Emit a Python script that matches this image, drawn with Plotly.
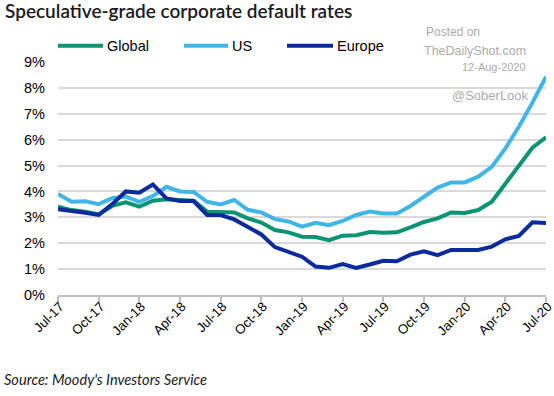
import plotly.graph_objects as go

months = ["Jul-17", "Aug-17", "Sep-17", "Oct-17", "Nov-17", "Dec-17",
          "Jan-18", "Feb-18", "Mar-18", "Apr-18", "May-18", "Jun-18",
          "Jul-18", "Aug-18", "Sep-18", "Oct-18", "Nov-18", "Dec-18",
          "Jan-19", "Feb-19", "Mar-19", "Apr-19", "May-19", "Jun-19",
          "Jul-19", "Aug-19", "Sep-19", "Oct-19", "Nov-19", "Dec-19",
          "Jan-20", "Feb-20", "Mar-20", "Apr-20", "May-20", "Jun-20", "Jul-20"]

global_rate = [3.41, 3.28, 3.22, 3.11, 3.44, 3.58,
               3.41, 3.64, 3.70, 3.66, 3.64, 3.22,
               3.20, 3.19, 2.96, 2.80, 2.51, 2.42,
               2.25, 2.24, 2.12, 2.29, 2.31, 2.43,
               2.40, 2.42, 2.61, 2.82, 2.96, 3.19,
               3.17, 3.28, 3.60, 4.31, 5.02, 5.69, 6.09]

us_rate = [3.90, 3.60, 3.62, 3.51, 3.74, 3.80,
           3.60, 3.82, 4.18, 4.00, 3.98, 3.60,
           3.50, 3.67, 3.29, 3.19, 2.93, 2.84,
           2.64, 2.79, 2.70, 2.86, 3.09, 3.22,
           3.15, 3.15, 3.44, 3.80, 4.15, 4.35,
           4.35, 4.57, 4.95, 5.66, 6.50, 7.43, 8.43]

europe_rate = [3.31, 3.26, 3.18, 3.09, 3.51, 4.00,
               3.95, 4.27, 3.73, 3.63, 3.63, 3.09,
               3.09, 2.92, 2.64, 2.34, 1.85, 1.65,
               1.48, 1.10, 1.05, 1.19, 1.05, 1.18,
               1.32, 1.30, 1.56, 1.69, 1.54, 1.74,
               1.74, 1.74, 1.87, 2.15, 2.28, 2.81, 2.78]

tick_labels = months[::3]
y_ticks = list(range(0, 10))
y_tick_text = [f"{v}%" for v in y_ticks]

series_names = ["Global", "US", "Europe"]
colors = ["#0A9473", "#41B6E6", "#0B2A9C"]
series_values = [global_rate, us_rate, europe_rate]

fig = go.Figure()
for name, vals, col in zip(series_names, series_values, colors):
    fig.add_trace(go.Scatter(x=months, y=vals, mode="lines", name=name,
                             line=dict(color=col, width=4), showlegend=False))

H = 396
PL, PR, PT, PB = 58, 8, 62, 101
PW, PH = 554 - PL - PR, H - PT - PB


def ypaper(py):
    return (H - PB - py) / PH


def xpaper(px):
    return (px - PL) / PW


# manual legend (line samples + labels), Excel style
legend_x = [(58, 103), (184, 228), (287, 333)]
legend_y = 45.7
for (x0, x1), name, col in zip(legend_x, series_names, colors):
    fig.add_shape(type="line", xref="paper", yref="paper",
                  x0=xpaper(x0), x1=xpaper(x1),
                  y0=ypaper(legend_y), y1=ypaper(legend_y),
                  line=dict(color=col, width=4))
    fig.add_annotation(text=name, xref="paper", yref="paper",
                       x=xpaper(x1 + 2), y=ypaper(legend_y),
                       xanchor="left", yanchor="middle", showarrow=False,
                       font=dict(family="Liberation Sans, Arial", size=14.5, color="#000"))

wm = dict(family="Liberation Sans, Arial", color="#ABABAB")
fig.add_annotation(text="Posted on", x=xpaper(424), y=ypaper(32), xref="paper", yref="paper",
                   xanchor="left", yanchor="middle", showarrow=False, font=dict(size=12, **wm))
fig.add_annotation(text="TheDailyShot.com", x=xpaper(528), y=ypaper(51), xref="paper", yref="paper",
                   xanchor="right", yanchor="middle", showarrow=False, font=dict(size=12.5, **wm))
fig.add_annotation(text="12-Aug-2020", x=xpaper(528), y=ypaper(67), xref="paper", yref="paper",
                   xanchor="right", yanchor="middle", showarrow=False, font=dict(size=11, **wm))
fig.add_annotation(text="@SoberLook", x=xpaper(531), y=ypaper(96), xref="paper", yref="paper",
                   xanchor="right", yanchor="middle", showarrow=False, font=dict(size=13, **wm))

fig.add_annotation(text="Source: Moody's Investors Service", x=xpaper(2), y=ypaper(379),
                   xref="paper", yref="paper", xanchor="left", yanchor="middle", showarrow=False,
                   font=dict(family="Lato", size=14.6, color="#1a1a1a", style="italic"))

fig.update_layout(
    width=554, height=396, autosize=False,
    margin=dict(l=PL, r=PR, t=PT, b=PB),
    paper_bgcolor="white", plot_bgcolor="white",
    title=dict(text="Speculative-grade corporate default rates", x=5 / 554, xanchor="left",
               y=1 - 11.5 / 396, yanchor="middle",
               font=dict(family="Lato", size=19, color="#1a1a1a", weight=600)),
    xaxis=dict(type="category", range=[0, 36], tickmode="array", automargin=False,
               tickvals=tick_labels, ticktext=tick_labels, tickangle=-45,
               showgrid=False, showline=True, linecolor="#BFBFBF", linewidth=1.5,
               ticks="outside", ticklen=5, tickcolor="#BFBFBF", tickwidth=1.5,
               ticklabelshift=2, ticklabelstandoff=-8,
               tickfont=dict(family="Liberation Sans, Arial", size=13.2, color="#000"),
               zeroline=False),
    yaxis=dict(range=[0, 9], tickmode="array", tickvals=y_ticks, ticktext=y_tick_text,
               automargin=False,
               showgrid=True, gridcolor="#D9D9D9", gridwidth=1.5, zeroline=False,
               showline=False, ticks="", ticklabelstandoff=12,
               tickfont=dict(family="Liberation Sans, Arial", size=14.5, color="#000")),
)

fig.write_html("out.html", config={"displayModeBar": False},
               post_script="document.body.style.margin='0px';")
